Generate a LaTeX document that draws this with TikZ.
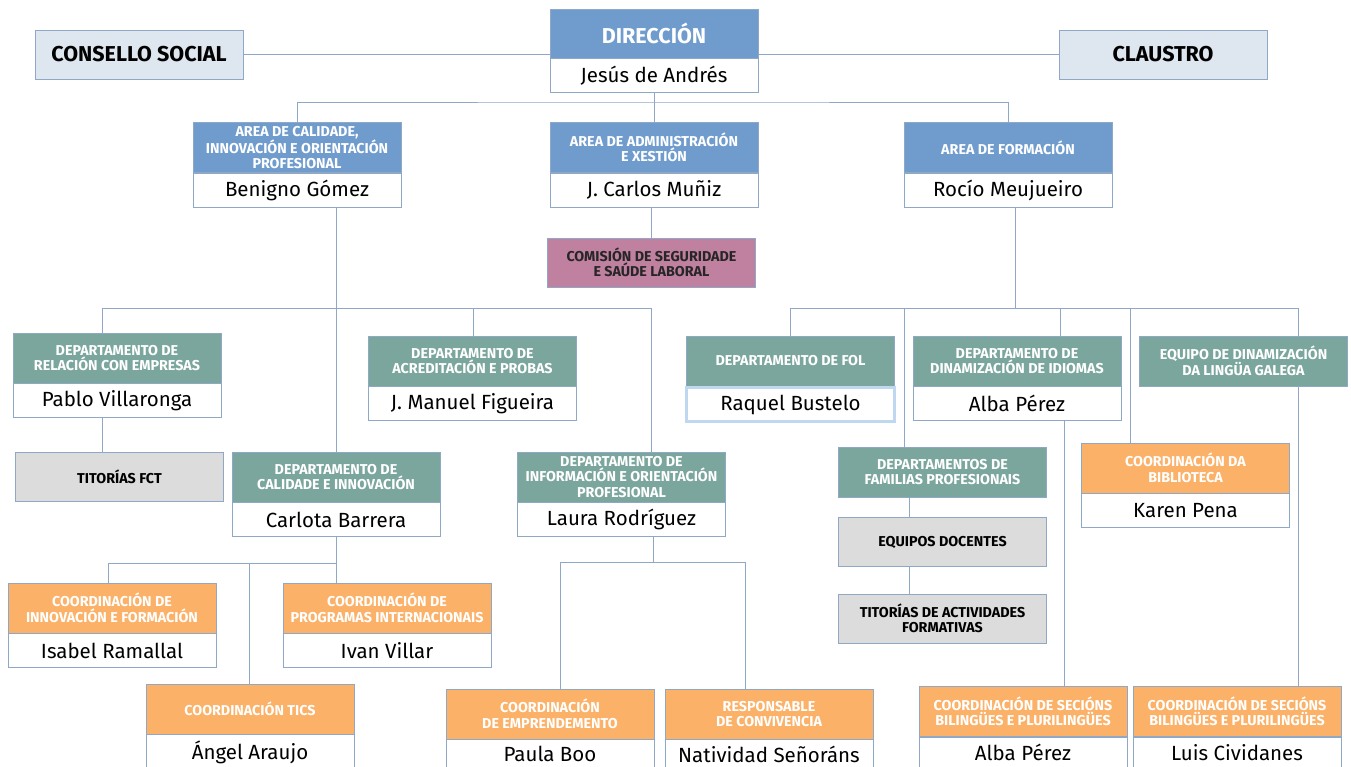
\documentclass[tikz,border=0pt]{standalone}
\usepackage{fontspec}
\setmainfont{Fira Sans}
\usetikzlibrary{positioning}

\definecolor{areablue}{HTML}{6F9CCD}
\definecolor{depteal}{HTML}{7BA69D}
\definecolor{coordorange}{HTML}{FBB167}
\definecolor{mauve}{HTML}{C0809F}
\definecolor{lightgrey}{HTML}{DCDCDC}
\definecolor{paleblue}{HTML}{DEE6F0}
\definecolor{edge}{HTML}{8EA8C6}
\definecolor{selblue}{HTML}{BFD8F0}

\begin{document}
\begin{tikzpicture}[
  x=1pt, y=-1pt,
  node distance=0pt,
  box/.style={rectangle, draw=edge, line width=0.9pt, minimum width=208pt, inner sep=1pt, align=center},
  headfont/.style={font=\bfseries\fontsize{14.3}{15.5}\selectfont},
  areahead/.style={box, headfont, fill=areablue, text=white, minimum height=50pt},
  dephead/.style={box, headfont, fill=depteal, text=white, minimum height=50pt},
  coordhead/.style={box, headfont, fill=coordorange, text=white, minimum height=50pt},
  greybox/.style={box, headfont, fill=lightgrey, text=black, minimum height=49pt},
  pinkbox/.style={box, headfont, fill=mauve, text=black!85, minimum height=49pt},
  topbox/.style={box, font=\bfseries\fontsize{21.5}{24}\selectfont, fill=paleblue, minimum height=49pt},
  namebox/.style={box, font=\fontsize{20.5}{23}\selectfont, fill=white, minimum height=34pt},
  link/.style={draw=edge, line width=0.9pt},
]
\useasboundingbox (0,0) rectangle (1351,767);

% top row
\node[topbox] (consello) at (139,54.5) {CONSELLO SOCIAL};
\node[areahead, font=\bfseries\fontsize{21.5}{24}\selectfont, minimum height=49pt] (dirH) at (654,33.5) {DIRECCIÓN};
\node[namebox, below=of dirH] (dirN) {Jesús de Andrés};
\node[topbox] (claustro) at (1163,54.5) {CLAUSTRO};

% areas
\node[areahead] (calH) at (297,147.5) {AREA DE CALIDADE,\\INNOVACIÓN E ORIENTACIÓN\\PROFESIONAL};
\node[namebox, below=of calH] (calN) {Benigno Gómez};
\node[areahead] (admH) at (654,147.5) {AREA DE ADMINISTRACIÓN\\E XESTIÓN};
\node[namebox, below=of admH] (admN) {J. Carlos Muñiz};
\node[areahead] (forH) at (1008,147.5) {AREA DE FORMACIÓN};
\node[namebox, below=of forH] (forN) {Rocío Meujueiro};
\node[pinkbox] (comision) at (651.5,262.5) {COMISIÓN DE SEGURIDADE\\E SAÚDE LABORAL};

% departamentos
\node[dephead] (relH) at (117,358) {DEPARTAMENTO DE\\RELACIÓN CON EMPRESAS};
\node[namebox, below=of relH] (relN) {Pablo Villaronga};
\node[dephead] (acrH) at (472.5,361) {DEPARTAMENTO DE\\ACREDITACIÓN E PROBAS};
\node[namebox, below=of acrH] (acrN) {J. Manuel Figueira};
\node[dephead] (folH) at (790.5,361) {DEPARTAMENTO DE FOL};
\node[namebox, below=of folH, draw=selblue, line width=2.5pt] (folN) {Raquel Bustelo};
\node[dephead] (idiH) at (1017,361) {DEPARTAMENTO DE\\DINAMIZACIÓN DE IDIOMAS};
\node[namebox, below=of idiH] (idiN) {Alba Pérez};
\node[dephead] (galH) at (1243.5,361) {EQUIPO DE DINAMIZACIÓN\\DA LINGÜA GALEGA};

\node[greybox] (fct) at (119.5,476.5) {TITORÍAS FCT};
\node[dephead] (cinH) at (336,477) {DEPARTAMENTO DE\\CALIDADE E INNOVACIÓN};
\node[namebox, below=of cinH] (cinN) {Carlota Barrera};
\node[dephead] (infH) at (621.5,477) {DEPARTAMENTO DE\\INFORMACIÓN E ORIENTACIÓN\\PROFESIONAL};
\node[namebox, below=of infH] (infN) {Laura Rodríguez};
\node[dephead] (famH) at (942.5,472) {DEPARTAMENTOS DE\\FAMILIAS PROFESIONAIS};
\node[greybox] (docentes) at (942.5,542) {EQUIPOS DOCENTES};
\node[greybox] (actform) at (942.5,618.5) {TITORÍAS DE ACTIVIDADES\\FORMATIVAS};
\node[coordhead] (bibH) at (1185.5,468) {COORDINACIÓN DA\\BIBLIOTECA};
\node[namebox, below=of bibH] (bibN) {Karen Pena};

% coordinacions
\node[coordhead] (ifoH) at (112,608) {COORDINACIÓN DE\\INNOVACIÓN E FORMACIÓN};
\node[namebox, below=of ifoH] (ifoN) {Isabel Ramallal};
\node[coordhead] (proH) at (387,608) {COORDINACIÓN DE\\PROGRAMAS INTERNACIONAIS};
\node[namebox, below=of proH] (proN) {Ivan Villar};
\node[coordhead] (ticH) at (250,709) {COORDINACIÓN TICS};
\node[namebox, below=of ticH] (ticN) {Ángel Araujo};
\node[coordhead] (empH) at (550,714) {COORDINACIÓN\\DE EMPRENDEMENTO};
\node[namebox, below=of empH, minimum height=29pt] (empN) {Paula Boo};
\node[coordhead] (conH) at (769,714) {RESPONSABLE\\DE CONVIVENCIA};
\node[namebox, below=of conH, minimum height=29pt] (conN) {Natividad Señoráns};
\node[coordhead] (biaH) at (1023,711.5) {COORDINACIÓN DE SECIÓNS\\BILINGÜES E PLURILINGÜES};
\node[namebox, below=of biaH, minimum height=31pt] (biaN) {Alba Pérez};
\node[coordhead] (bicH) at (1237,711.5) {COORDINACIÓN DE SECIÓNS\\BILINGÜES E PLURILINGÜES};
\node[namebox, below=of bicH, minimum height=31pt] (bicN) {Luis Cividanes};

% bus points
\coordinate (topbus) at (654,102);
\coordinate (lb1) at (102,308);
\coordinate (lb2) at (473,308);
\coordinate (lb3) at (651,308);
\coordinate (rb0) at (1015,308);
\coordinate (rb1) at (790.5,308);
\coordinate (rb2) at (904,308);
\coordinate (rb3) at (1060,308);
\coordinate (rb4) at (1130,308);
\coordinate (rb5) at (1298,308);
\coordinate (idx) at (1064,420);
\coordinate (fx) at (909,520);
\coordinate (cb1) at (108,563);
\coordinate (cb2) at (249,563);
\coordinate (ib0) at (653,562);
\coordinate (ib1) at (560,562);
\coordinate (ib2) at (745,562);

% connectors
\draw[link] (consello.east) -- (consello.east -| dirH.west);
\draw[link] (claustro.west) -- (claustro.west -| dirH.east);
\draw[link] (dirN) -- (admH);
\draw[link] (calH.north) |- (topbus) -| (forH.north);
\draw[link] (admN.south -| comision.north) -- (comision.north);

\draw[link] (calN.south -| cinH.north) -- (cinH.north);
\draw[link] (lb1 |- relH.north) -- (lb1) -- (lb3) -- (lb3 |- infH.north);
\draw[link] (lb2) -- (lb2 |- acrH.north);
\draw[link] (relN.south -| lb1) -- (fct.north -| lb1);

\draw[link] (forN.south -| rb0) -- (rb0);
\draw[link] (rb1 |- folH.north) -- (rb1) -- (rb5) -- (rb5 |- galH.north);
\draw[link] (rb2) -- (rb2 |- famH.north);
\draw[link] (rb3) -- (rb3 |- idiH.north);
\draw[link] (rb4) -- (rb4 |- bibH.north);
\draw[link] (galH.south -| rb5) -- (bicH.north -| rb5);
\draw[link] (idiN.south -| idx) -- (biaH.north -| idx);
\draw[link] (famH.south -| fx) -- (docentes.north -| fx);
\draw[link] (docentes.south -| fx) -- (actform.north -| fx);

\draw[link] (cinN.south) -- (cinN.south |- proH.north);
\draw[link] (cb1 |- ifoH.north) -- (cb1) -- (cinN.south |- cb1);
\draw[link] (cb2) -- (cb2 |- ticH.north);
\draw[link] (ib0 |- infN.south) -- (ib0);
\draw[link] (ib1 |- empH.north) -- (ib1) -- (ib2) -- (ib2 |- conH.north);
\end{tikzpicture}
\end{document}
